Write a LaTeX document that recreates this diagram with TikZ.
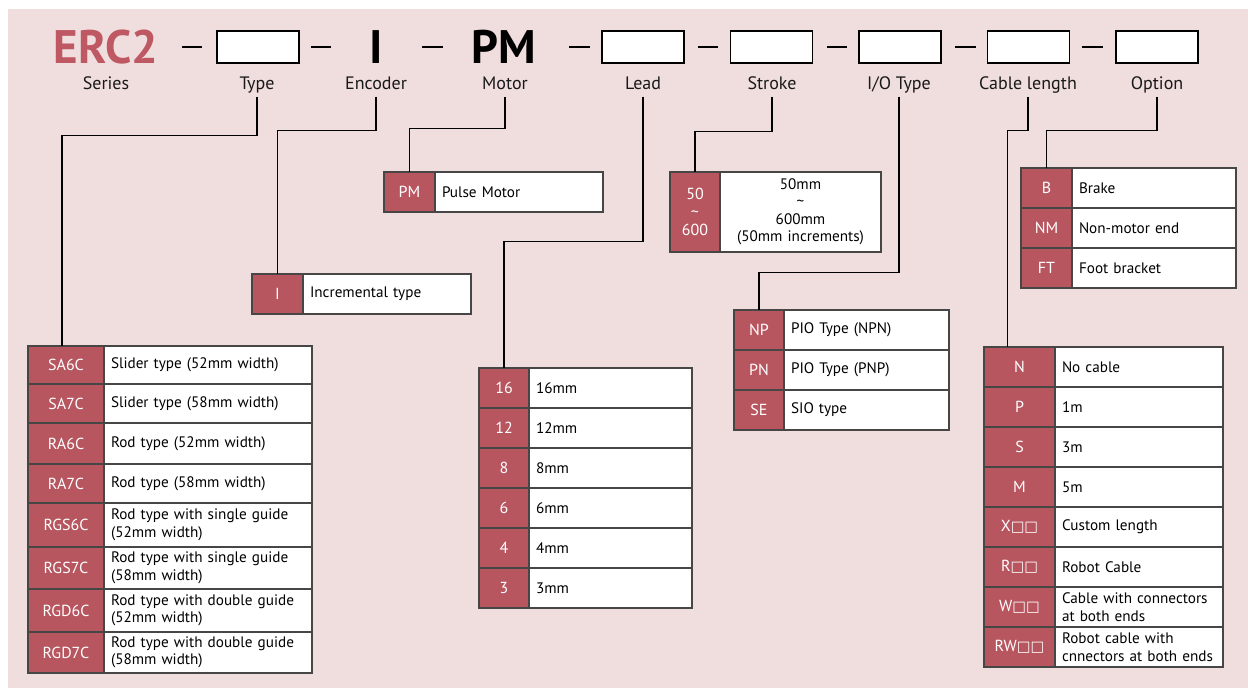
\documentclass[tikz,border=0pt]{standalone}
\usepackage{fontspec}
\setmainfont{PT Sans}
\newfontfamily\boxfont{DejaVu Sans}
\usetikzlibrary{positioning}
\definecolor{codered}{RGB}{184,86,96}
\definecolor{seriesred}{RGB}{190,88,98}
\definecolor{bgpink}{RGB}{240,221,221}
\definecolor{tableline}{RGB}{70,70,70}
\newcommand{\sqbox}{{\boxfont\fontsize{14.5}{14.5}\selectfont\char"25A1}}
\tikzset{
  codecell/.style 2 args={draw=tableline, line width=1.1pt, fill=codered, text=white, anchor=north west, outer sep=0pt,
    minimum width=#1, minimum height=#2, inner sep=0pt, align=center, font=\fontsize{16}{18}\selectfont},
  desccell/.style 2 args={draw=tableline, line width=1.1pt, fill=white, text=black, anchor=north west, outer sep=0pt,
    text width=#1, minimum height=#2, inner xsep=7pt, inner ysep=0pt, align=left, font=\fontsize{15.2}{17.5}\selectfont},
  topbox/.style={draw=black, line width=1.5pt, fill=white, minimum width=82pt, minimum height=32pt, inner sep=0pt},
  partlbl/.style={anchor=base, text=black!90, font=\fontsize{18}{20}\selectfont, text depth=4pt, inner sep=3pt},
  bigpart/.style={inner sep=0pt, font=\bfseries\fontsize{47}{47}\selectfont},
  hyph/.style={line width=1.3pt},
  conn/.style={line width=1.4pt},
}
\begin{document}
\begin{tikzpicture}[x=1pt,y=-1pt]
        \useasboundingbox (0,0) rectangle (1248,688);
        \fill[bgpink] (8,9) rectangle (1248,688);
        % part number
        \node[bigpart, text=seriesred] (series) at (106,47) {ERC2};
        \node[topbox] (typebox) at (258,47) {};
        \node[bigpart] (enc) at (376,47) {I};
        \node[bigpart] (mot) at (504,47) {PM};
        \node[topbox] (leadbox) at (643,47) {};
        \node[topbox] (strokebox) at (771.5,47) {};
        \node[topbox] (iobox) at (900,47) {};
        \node[topbox] (cablebox) at (1028.5,47) {};
        \node[topbox] (optbox) at (1157,47) {};
        \draw[hyph] (182,47) -- (202,47);
        \draw[hyph] (311,47) -- (331,47);
        \draw[hyph] (422,47) -- (443,47);
        \draw[hyph] (569,47) -- (590,47);
        \draw[hyph] (698,47) -- (718,47);
        \draw[hyph] (827,47) -- (847,47);
        \draw[hyph] (955,47) -- (976,47);
        \draw[hyph] (1082,47) -- (1103,47);
        \node[partlbl] (serieslbl) at (106,89.5) {Series};
        \node[partlbl] (typelbl) at (257,89.5) {Type};
        \node[partlbl] (enclbl) at (376,89.5) {Encoder};
        \node[partlbl] (motlbl) at (505,89.5) {Motor};
        \node[partlbl] (leadlbl) at (643,89.5) {Lead};
        \node[partlbl] (strokelbl) at (772,89.5) {Stroke};
        \node[partlbl] (iolbl) at (899,89.5) {I/O Type};
        \node[partlbl] (cablelbl) at (1028,89.5) {Cable length};
        \node[partlbl] (optlbl) at (1157,89.5) {Option};
        % type
        \node[codecell={76pt}{38pt}] (sa6c) at (28,346) {SA6C};
        \node[desccell={194pt}{38pt}] (sa6cd) at (sa6c.north east) {Slider type (52mm width)};
        \node[codecell={76pt}{39pt}] (sa7c) at (sa6c.south west) {SA7C};
        \node[desccell={194pt}{39pt}] (sa7cd) at (sa7c.north east) {Slider type (58mm width)};
        \node[codecell={76pt}{41pt}] (ra6c) at (sa7c.south west) {RA6C};
        \node[desccell={194pt}{41pt}] (ra6cd) at (ra6c.north east) {Rod type (52mm width)};
        \node[codecell={76pt}{39pt}] (ra7c) at (ra6c.south west) {RA7C};
        \node[desccell={194pt}{39pt}] (ra7cd) at (ra7c.north east) {Rod type (58mm width)};
        \node[codecell={76pt}{44pt}] (rgs6c) at (ra7c.south west) {RGS6C};
        \node[desccell={194pt}{44pt}] (rgs6cd) at (rgs6c.north east) {Rod type with single guide\\(52mm width)};
        \node[codecell={76pt}{42pt}] (rgs7c) at (rgs6c.south west) {RGS7C};
        \node[desccell={194pt}{42pt}] (rgs7cd) at (rgs7c.north east) {Rod type with single guide\\(58mm width)};
        \node[codecell={76pt}{43pt}] (rgd6c) at (rgs7c.south west) {RGD6C};
        \node[desccell={194pt}{43pt}] (rgd6cd) at (rgd6c.north east) {Rod type with double guide\\(52mm width)};
        \node[codecell={76pt}{41pt}] (rgd7c) at (rgd6c.south west) {RGD7C};
        \node[desccell={194pt}{41pt}] (rgd7cd) at (rgd7c.north east) {Rod type with double guide\\(58mm width)};
        % encoder and motor
        \node[codecell={51pt}{40pt}] (incr) at (252,274) {I};
        \node[desccell={154pt}{40pt}] (incrd) at (incr.north east) {Incremental type};
        \node[codecell={51pt}{40pt}] (pm) at (384,172) {PM};
        \node[desccell={154pt}{40pt}] (pmd) at (pm.north east) {Pulse Motor};
        % lead
        \node[codecell={50pt}{40pt}] (lead16) at (479,368) {16};
        \node[desccell={149pt}{40pt}] (lead16d) at (lead16.north east) {16mm};
        \node[codecell={50pt}{40pt}] (lead12) at (lead16.south west) {12};
        \node[desccell={149pt}{40pt}] (lead12d) at (lead12.north east) {12mm};
        \node[codecell={50pt}{40pt}] (lead8) at (lead12.south west) {8};
        \node[desccell={149pt}{40pt}] (lead8d) at (lead8.north east) {8mm};
        \node[codecell={50pt}{40pt}] (lead6) at (lead8.south west) {6};
        \node[desccell={149pt}{40pt}] (lead6d) at (lead6.north east) {6mm};
        \node[codecell={50pt}{40pt}] (lead4) at (lead6.south west) {4};
        \node[desccell={149pt}{40pt}] (lead4d) at (lead4.north east) {4mm};
        \node[codecell={50pt}{40pt}] (lead3) at (lead4.south west) {3};
        \node[desccell={149pt}{40pt}] (lead3d) at (lead3.north east) {3mm};
        % stroke
        \node[codecell={50pt}{80pt}] (strk) at (670,172) {50\\\textasciitilde\\600};
        \node[desccell={147pt}{80pt}, align=center] (strkd) at (strk.north east) {50mm\\\textasciitilde\\600mm\\(50mm increments)};
        % i/o type
        \node[codecell={50pt}{40pt}] (np) at (734,310) {NP};
        \node[desccell={151pt}{40pt}] (npd) at (np.north east) {PIO Type (NPN)};
        \node[codecell={50pt}{40pt}] (pn) at (np.south west) {PN};
        \node[desccell={151pt}{40pt}] (pnd) at (pn.north east) {PIO Type (PNP)};
        \node[codecell={50pt}{40pt}] (se) at (pn.south west) {SE};
        \node[desccell={151pt}{40pt}] (sed) at (se.north east) {SIO type};
        % option
        \node[codecell={51pt}{40pt}] (brk) at (1021,168) {B};
        \node[desccell={150pt}{40pt}] (brkd) at (brk.north east) {Brake};
        \node[codecell={51pt}{40pt}] (nm) at (brk.south west) {NM};
        \node[desccell={150pt}{40pt}] (nmd) at (nm.north east) {Non-motor end};
        \node[codecell={51pt}{40pt}] (ft) at (nm.south west) {FT};
        \node[desccell={150pt}{40pt}] (ftd) at (ft.north east) {Foot bracket};
        % cable length
        \node[codecell={71pt}{40pt}] (cabn) at (984,347) {N};
        \node[desccell={154pt}{40pt}] (cabnd) at (cabn.north east) {No cable};
        \node[codecell={71pt}{40pt}] (cabp) at (cabn.south west) {P};
        \node[desccell={154pt}{40pt}] (cabpd) at (cabp.north east) {1m};
        \node[codecell={71pt}{40pt}] (cabs) at (cabp.south west) {S};
        \node[desccell={154pt}{40pt}] (cabsd) at (cabs.north east) {3m};
        \node[codecell={71pt}{40pt}] (cabm) at (cabs.south west) {M};
        \node[desccell={154pt}{40pt}] (cabmd) at (cabm.north east) {5m};
        \node[codecell={71pt}{40pt}] (cabx) at (cabm.south west) {X\sqbox\sqbox};
        \node[desccell={154pt}{40pt}] (cabxd) at (cabx.north east) {Custom length};
        \node[codecell={71pt}{40pt}] (cabr) at (cabx.south west) {R\sqbox\sqbox};
        \node[desccell={154pt}{40pt}] (cabrd) at (cabr.north east) {Robot Cable};
        \node[codecell={71pt}{40pt}] (cabw) at (cabr.south west) {W\sqbox\sqbox};
        \node[desccell={154pt}{40pt}] (cabwd) at (cabw.north east) {Cable with connectors\\at both ends};
        \node[codecell={71pt}{40pt}] (cabrw) at (cabw.south west) {RW\sqbox\sqbox};
        \node[desccell={154pt}{40pt}] (cabrwd) at (cabrw.north east) {Robot cable with\\cnnectors at both ends};
        % connectors
        \draw[conn] (typelbl.south) -- ++(0,38.5) -| ([xshift=-4pt]sa6c.north);
        \draw[conn] (enclbl.south) -- ++(0,33.5) -| (incr.north);
        \draw[conn] (motlbl.south) -- ++(0,31.5) -| (pm.north);
        \draw[conn] (leadlbl.south) -- ++(0,144.5) -| (lead16.north);
        \draw[conn] (strokelbl.south) -- ++(0,34.5) -| (strk.north);
        \draw[conn] (iolbl.south) -- ++(0,175.5) -| (np.north);
        \draw[conn] (cablelbl.south) -- ++(0,33.5) -| ([xshift=-12pt]cabn.north);
        \draw[conn] (optlbl.south) -- ++(0,33.5) -| (brk.north);
    \end{tikzpicture}
\end{document}
